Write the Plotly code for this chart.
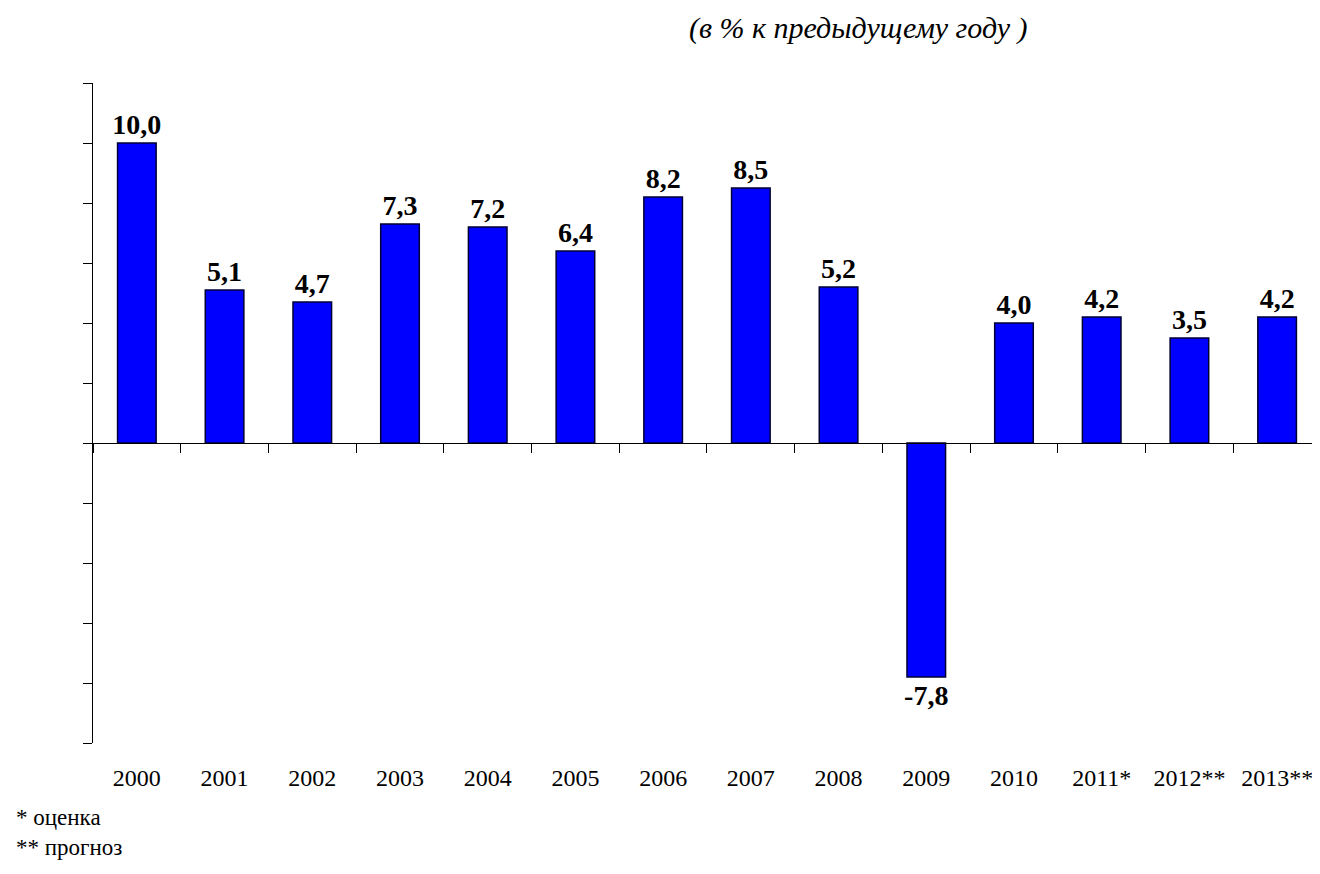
import plotly.graph_objects as go

# ---- data ----
years = ["2000", "2001", "2002", "2003", "2004", "2005", "2006", "2007",
         "2008", "2009", "2010", "2011*", "2012**", "2013**"]
growth = [10.0, 5.1, 4.7, 7.3, 7.2, 6.4, 8.2, 8.5, 5.2, -7.8, 4.0, 4.2, 3.5, 4.2]
title_text = "(в % к предыдущему году )"
footnotes = ["* оценка", "** прогноз"]

labels = [f"{v:.1f}".replace(".", ",") for v in growth]

fig = go.Figure()
fig.add_trace(go.Bar(
    x=years, y=growth,
    text=labels, textposition="outside", cliponaxis=False,
    constraintext="none",
    textfont=dict(family="Liberation Serif", size=28, color="black"),
    texttemplate="<b>%{text}</b>",
    marker=dict(color="#0000FF", line=dict(color="#000033", width=1.5)),
    hoverinfo="skip", showlegend=False,
))
# invisible helper trace carrying the zero-line axis with tick marks
fig.add_trace(go.Scatter(
    x=years, y=growth, xaxis="x2", mode="markers",
    marker=dict(opacity=0), hoverinfo="skip", showlegend=False,
))

xrange = [-0.5, 13.58]
fig.update_layout(
    width=1320, height=874,
    margin=dict(l=85, r=0, t=75, b=139),
    paper_bgcolor="white", plot_bgcolor="white",
    bargap=0.56,
    font=dict(family="Liberation Serif", color="black"),
    xaxis=dict(
        type="category", range=xrange,
        showline=False, ticks="", showgrid=False, zeroline=False,
        tickfont=dict(family="Liberation Serif", size=24, color="black"),
        ticklabelstandoff=18,
    ),
    xaxis2=dict(
        type="category", range=xrange, overlaying="x",
        anchor="free", position=10 / 22,
        showline=True, linecolor="black", linewidth=1.2,
        ticks="outside", ticklen=9, tickcolor="black", tickwidth=1.2,
        tickson="boundaries", showticklabels=False, showgrid=False,
    ),
    yaxis=dict(
        range=[-10, 12], dtick=2, tick0=0,
        showline=True, linecolor="black", linewidth=1.2,
        ticks="outside", ticklen=9, tickcolor="black", tickwidth=1.2,
        showticklabels=False, showgrid=False, zeroline=False,
    ),
)

fig.add_annotation(
    text=f"<i>{title_text}</i>", xref="paper", yref="paper",
    x=0.62, y=1.0, yshift=55, xanchor="center", yanchor="middle",
    showarrow=False, font=dict(family="Liberation Serif", size=30, color="black"),
)
fig.add_annotation(
    text="<br>".join(footnotes), xref="paper", yref="paper",
    x=-0.064, y=0, yshift=-60, xanchor="left", yanchor="top", align="left",
    showarrow=False, font=dict(family="Liberation Serif", size=23, color="black"),
)

fig.write_html("out.html")
